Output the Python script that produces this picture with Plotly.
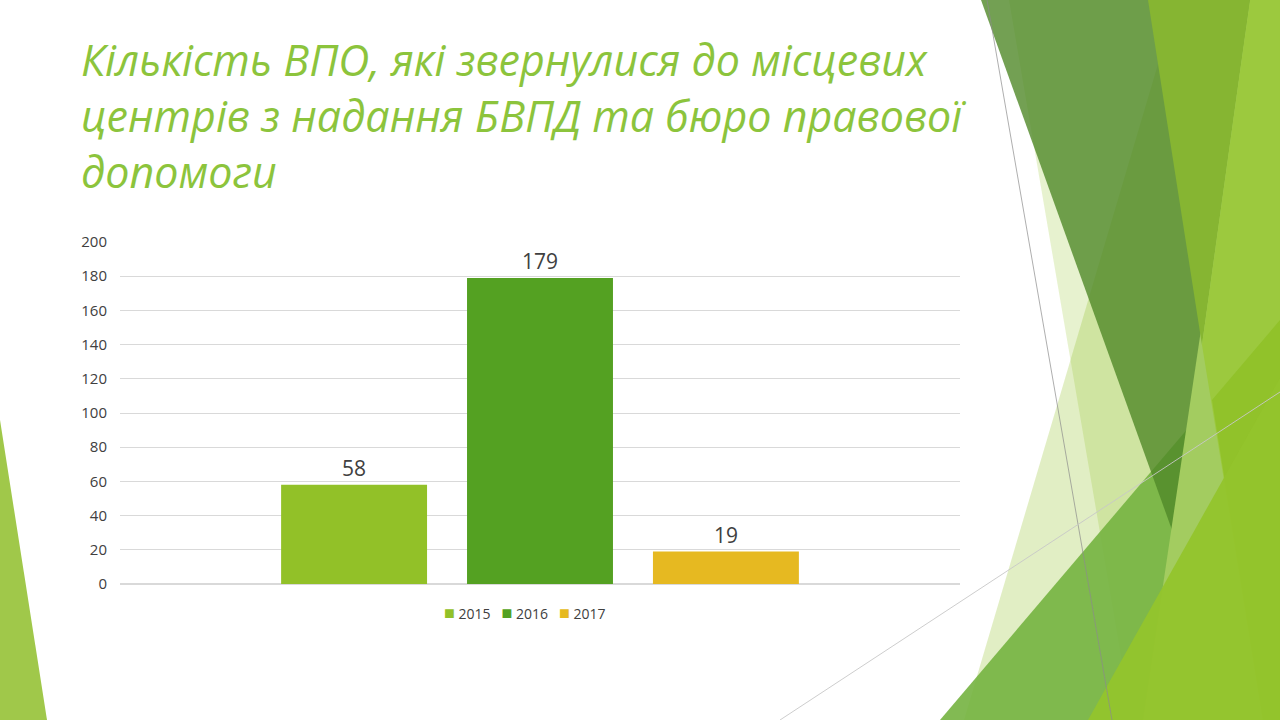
import plotly.graph_objects as go

# ---- data ----
category = ["ВПО"]
years = ["2015", "2016", "2017"]
values = [58, 179, 19]
title_lines = [
    "Кількість ВПО, які звернулися до місцевих",
    "центрів з надання БВПД та бюро правової",
    "допомоги",
]
y_ticks = [0, 20, 40, 60, 80, 100, 120, 140, 160, 180, 200]

# ---- styles ----
bar_colors = ["#92C128", "#54A122", "#E6B921"]
W, H = 1280, 720
ML, MR, MT, MB = 120, 320, 242, 136
PW, PH = W - ML - MR, H - MT - MB


def px(x):
    return (x - ML) / PW


def py(y):
    return (H - MB - y) / PH


def poly(points):
    return "M " + " L ".join(f"{px(x):.5f},{py(y):.5f}" for x, y in points) + " Z"


fig = go.Figure()
for yr, v, c in zip(years, values, bar_colors):
    fig.add_trace(go.Bar(
        name=yr, x=category, y=[v], marker=dict(color=c, line=dict(width=0)),
        text=[v], textposition="outside",
        textfont=dict(family="Open Sans", size=21, color="#404040"),
        cliponaxis=False, showlegend=False,
    ))

shapes = []
bg = [
    # light translucent layers
    ([(1009, 0), (1280, 0), (1280, 720), (1132, 720)], "rgba(144,194,38,0.22)"),
    ([(1177, 0), (1280, 0), (1280, 720), (964, 720)], "rgba(144,194,38,0.27)"),
    # bottom medium green triangle
    ([(940, 720), (1280, 320), (1280, 720)], "rgba(116,178,64,0.9)"),
    # dark top triangle
    ([(981, 0), (1255, 0), (1172, 530)], "rgba(80,136,40,0.8)"),
    # right light band
    ([(1250, 0), (1280, 0), (1280, 720), (1143, 720)], "rgb(163,204,96)"),
    # medium green top triangle
    ([(1148, 0), (1250, 0), (1202, 345)], "rgb(134,181,50)"),
    # overlap region right of both edges
    ([(1250, 0), (1280, 0), (1280, 720), (1263, 720), (1202, 345)], "rgb(156,201,62)"),
    # bright lower-right regions
    ([(1212, 400), (1280, 320), (1280, 720), (1263, 720)], "rgb(145,194,42)"),
    ([(1088, 720), (1280, 378), (1280, 720)], "rgba(148,196,44,0.95)"),
    # left bottom triangle
    ([(0, 420), (47, 720), (0, 720)], "rgb(160,200,74)"),
]
for pts, col in bg:
    shapes.append(dict(type="path", path=poly(pts), xref="paper", yref="paper",
                       fillcolor=col, line=dict(width=0), layer="below"))
# thin decorative lines
shapes.append(dict(type="line", xref="paper", yref="paper",
                   x0=px(987), y0=py(0), x1=px(1112), y1=py(720),
                   line=dict(color="rgba(140,140,140,0.7)", width=1), layer="below"))
shapes.append(dict(type="line", xref="paper", yref="paper",
                   x0=px(780), y0=py(720), x1=px(1280), y1=py(392),
                   line=dict(color="rgba(200,200,200,0.9)", width=1), layer="below"))

annotations = []
# title: one multi-line text block
annotations.append(dict(
    text="<br>".join(title_lines), xref="paper", yref="paper", x=px(79), y=py(116),
    xanchor="left", yanchor="middle", align="left", showarrow=False,
    font=dict(family="Open Sans", size=43, color="#8CC43C", style="italic"),
))

# legend built from the series names and colours
legend_text = "\u00a0\u00a0\u00a0".join(
    f"<span style='color:{c};font-size:18px'>■</span>\u00a0{yr}"
    for yr, c in zip(years, bar_colors)
)
annotations.append(dict(
    text=legend_text, xref="paper", yref="paper", x=px(524), y=py(612),
    xanchor="center", yanchor="middle", showarrow=False,
    font=dict(family="Open Sans", size=14, color="#404040"),
))

fig.update_layout(
    width=W, height=H,
    margin=dict(l=ML, r=MR, t=MT, b=MB, pad=0),
    paper_bgcolor="white", plot_bgcolor="rgba(0,0,0,0)",
    barmode="group", bargap=0.336, bargroupgap=0.215,
    shapes=shapes, annotations=annotations,
    showlegend=False,
    font=dict(family="Open Sans", color="#404040"),
)
fig.update_yaxes(range=[0, 200], tickvals=y_ticks, showgrid=True, gridcolor="#D9D9D9",
                 gridwidth=1, zeroline=True, zerolinecolor="#D9D9D9", showline=False,
                 ticks="", ticklabelstandoff=12,
                 tickfont=dict(family="Open Sans", size=15, color="#404040"))
fig.update_xaxes(showticklabels=False, showgrid=False, showline=False, ticks="")

fig.write_html("out.html")
